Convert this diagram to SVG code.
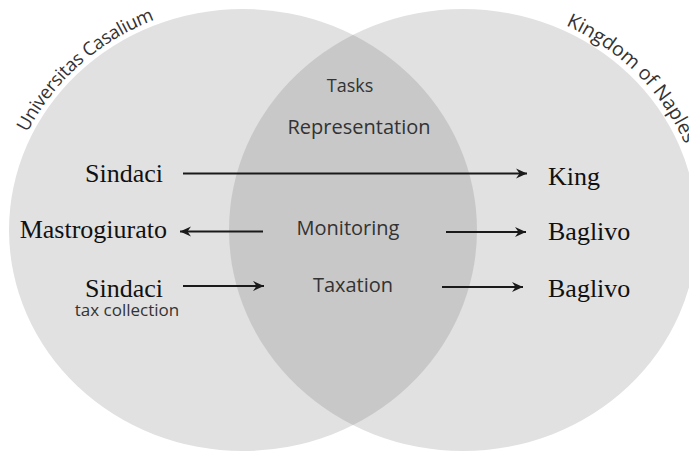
<svg xmlns="http://www.w3.org/2000/svg" width="689" height="453" viewBox="0 0 689 453">
  <style>
    .sans { font-family: "Open Sans", "Noto Sans", sans-serif; fill: #333; }
    .serif { font-family: "Liberation Serif", "Times New Roman", serif; font-size: 26px; fill: #111; }
    .conn { stroke: #1a1a1a; stroke-width: 2; fill: none; marker-end: url(#arrow); }
  </style>
  <defs>
    <marker id="arrow" markerUnits="userSpaceOnUse" markerWidth="13" markerHeight="13" viewBox="0 0 13 13" refX="12" refY="6.5" orient="auto">
      <path d="M1,1.5 L12,6.5 L1,11.5 L4.5,6.5 z" fill="#1a1a1a"/>
    </marker>
    <clipPath id="leftClip">
      <ellipse cx="243" cy="230" rx="234" ry="221"/>
    </clipPath>
    <path id="arcLeft" d="M27.3,132.6 A239 226 0 0 1 201.5 7.4"/>
    <path id="arcRight" d="M565.7,25.4 A240 227 0 0 1 703 230"/>
  </defs>
  <rect width="689" height="453" fill="#ffffff"/>

  <g id="universitas-casalium">
    <ellipse cx="243" cy="230" rx="234" ry="221" fill="#e1e1e1"/>
  </g>
  <g id="kingdom-of-naples">
    <ellipse cx="463" cy="230" rx="234" ry="221" fill="#e1e1e1"/>
  </g>
  <g id="tasks">
    <ellipse cx="463" cy="230" rx="234" ry="221" fill="#c8c8c8" clip-path="url(#leftClip)"/>
    <text class="sans" x="350" y="92" font-size="18" text-anchor="middle">Tasks</text>
  </g>

  <g id="circle-labels">
    <text class="sans" font-size="18.5" fill="#222"><textPath href="#arcLeft" textLength="174" lengthAdjust="spacing">Universitas Casalium</textPath></text>
    <text class="sans" font-size="19.5" fill="#222"><textPath href="#arcRight">Kingdom of Naples</textPath></text>
  </g>

  <g id="representation">
    <text class="sans" x="359" y="134" font-size="20" text-anchor="middle">Representation</text>
  </g>
  <g id="monitoring">
    <text class="sans" x="348" y="235" font-size="20" text-anchor="middle">Monitoring</text>
  </g>
  <g id="taxation">
    <text class="sans" x="353" y="292" font-size="20" text-anchor="middle">Taxation</text>
  </g>

  <g id="sindaci-1">
    <text class="serif" x="163" y="182" text-anchor="end">Sindaci</text>
  </g>
  <g id="mastrogiurato">
    <text class="serif" x="167" y="238" text-anchor="end">Mastrogiurato</text>
  </g>
  <g id="sindaci-2">
    <text class="serif" x="163" y="297" text-anchor="end">Sindaci</text>
    <text class="sans" x="127" y="316" font-size="17" text-anchor="middle">tax collection</text>
  </g>
  <g id="king">
    <text class="serif" x="548" y="185">King</text>
  </g>
  <g id="baglivo-1">
    <text class="serif" x="548" y="240">Baglivo</text>
  </g>
  <g id="baglivo-2">
    <text class="serif" x="548" y="297">Baglivo</text>
  </g>

  <g id="connectors">
    <line class="conn" x1="183" y1="173.5" x2="527" y2="173.5"/>
    <line class="conn" x1="263" y1="231.5" x2="180" y2="231.5"/>
    <line class="conn" x1="446" y1="232" x2="526" y2="232"/>
    <line class="conn" x1="183" y1="286" x2="264" y2="286"/>
    <line class="conn" x1="442" y1="287" x2="523" y2="287"/>
  </g>
</svg>
